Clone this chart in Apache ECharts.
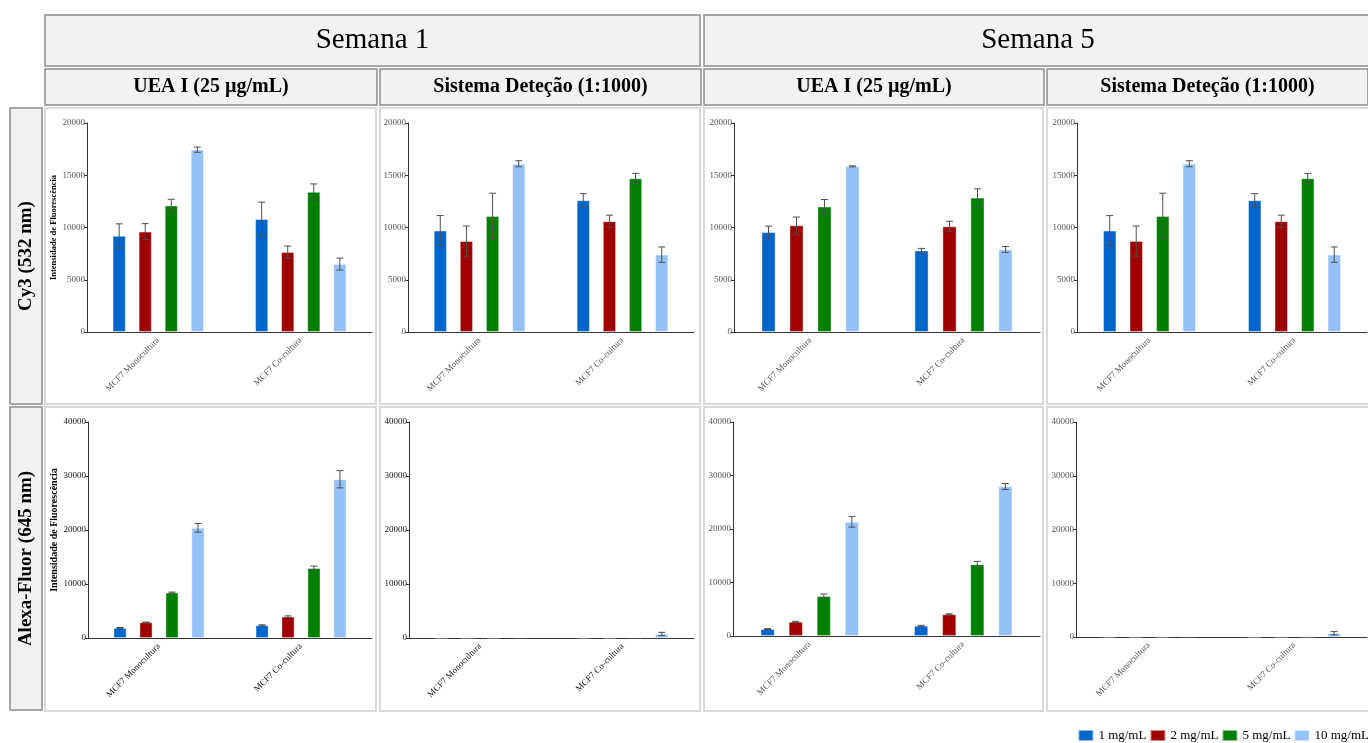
<!DOCTYPE html>
<html>
<head>
<meta charset="utf-8">
<title>Intensidade de Fluorescência</title>
<script src="https://cdn.jsdelivr.net/npm/echarts@6/dist/echarts.min.js"></script>
<style>
  html, body { margin: 0; padding: 0; background: #ffffff; }
  #chart { width: 1368px; height: 743px; }
</style>
</head>
<body>
<div id="chart"></div>
<script>
// ---- data -------------------------------------------------------------
const categories = ['MCF7 Monocultura', 'MCF7 Co-cultura'];
const concentrations = ['1 mg/mL', '2 mg/mL', '5 mg/mL', '10 mg/mL'];
const weeks = ['Semana 1', 'Semana 5'];
const probes = ['UEA I (25 µg/mL)', 'Sistema Deteção (1:1000)'];
const channels = ['Cy3 (532 nm)', 'Alexa-Fluor (645 nm)'];
const yTicksCy3 = [0, 5000, 10000, 15000, 20000];
const yTicksAlexa = [0, 10000, 20000, 30000, 40000];
const yAxisTitle = 'Intensidade de Fluorescência';

// mean values per concentration, [Monocultura, Co-cultura]
const s1UeaCy3      = [[9200, 10800], [9600, 7650], [12100, 13400], [17450, 6500]];
const s1UeaCy3Err   = [[1150, 1620], [770, 570], [600, 770], [250, 570]];
const s1SisCy3      = [[9700, 12600], [8700, 10600], [11100, 14700], [16100, 7400]];
const s1SisCy3Err   = [[1440, 640], [1440, 580], [2180, 480], [290, 740]];
const s5UeaCy3      = [[9550, 7800], [10200, 10100], [12000, 12850], [15850, 7900]];
const s5UeaCy3Err   = [[580, 200], [800, 500], [680, 850], [50, 280]];
const s5SisCy3      = [[9700, 12600], [8700, 10600], [11100, 14700], [16100, 7400]];
const s5SisCy3Err   = [[1440, 640], [1440, 580], [2180, 480], [290, 740]];

const s1UeaAlexa    = [[1850, 2350], [2900, 3950], [8400, 12950], [20400, 29400]];
const s1UeaAlexaErr = [[100, 100], [50, 150], [100, 350], [800, 1600]];
const s1SisAlexa    = [[20, 30], [20, 40], [40, 120], [120, 750]];
const s1SisAlexaErr = [[0, 0], [0, 0], [0, 0], [0, 300]];
const s5UeaAlexa    = [[1300, 1900], [2650, 4050], [7450, 13400], [21350, 27950]];
const s5UeaAlexaErr = [[80, 100], [100, 100], [400, 550], [1000, 550]];
const s5SisAlexa    = [[20, 20], [20, 30], [30, 60], [110, 700]];
const s5SisAlexaErr = [[0, 0], [0, 0], [0, 0], [0, 300]];

// ---- styling ----------------------------------------------------------
const barColors = ['#0066CC', '#A00000', '#008000', '#94C1F8'];
const serif = 'Liberation Serif, Times New Roman, serif';
const CAT_GAP = 0.36;           // barCategoryGap as a fraction

// panel layout: grid rectangles and column/row frame edges
const cols = [[45, 377], [380, 701], [704, 1044], [1047, 1372]];
const rowsY = [[108, 405], [407, 712]];

const panels = [
  { vals: s1UeaCy3,   errs: s1UeaCy3Err,   ticks: yTicksCy3,   grid: { left: 87,  top: 123, width: 285, height: 209 }, title: true,  dark: false, nameSize: 8.5 },
  { vals: s1SisCy3,   errs: s1SisCy3Err,   ticks: yTicksCy3,   grid: { left: 408, top: 123, width: 286, height: 209 }, title: false, dark: false },
  { vals: s5UeaCy3,   errs: s5UeaCy3Err,   ticks: yTicksCy3,   grid: { left: 734, top: 123, width: 306, height: 209 }, title: false, dark: false },
  { vals: s5SisCy3,   errs: s5SisCy3Err,   ticks: yTicksCy3,   grid: { left: 1077, top: 123, width: 290, height: 209 }, title: false, dark: false },
  { vals: s1UeaAlexa, errs: s1UeaAlexaErr, ticks: yTicksAlexa, grid: { left: 88,  top: 422, width: 284, height: 216 }, title: true,  dark: true, nameSize: 10 },
  { vals: s1SisAlexa, errs: s1SisAlexaErr, ticks: yTicksAlexa, grid: { left: 409, top: 422, width: 285, height: 216 }, title: false, dark: true },
  { vals: s5UeaAlexa, errs: s5UeaAlexaErr, ticks: yTicksAlexa, grid: { left: 733, top: 422, width: 307, height: 214 }, title: false, dark: false },
  { vals: s5SisAlexa, errs: s5SisAlexaErr, ticks: yTicksAlexa, grid: { left: 1076, top: 422, width: 291, height: 215 }, title: false, dark: false }
];

// ---- error bars -------------------------------------------------------
function renderErrorBar(params, api) {
  const cat = api.value(0);
  const si = api.value(1);
  const v = api.value(2);
  const e = api.value(3);
  if (!e) return null;
  const catW = api.size([1, 0])[0];
  const n = concentrations.length;
  const bw = catW * (1 - CAT_GAP) / (2 * n - 1);
  const off = (si - (n - 1) / 2) * 2 * bw;
  const hi = api.coord([cat, v + e]);
  const lo = api.coord([cat, Math.max(0, v - e)]);
  const x = hi[0] + off;
  const cap = 3.5;
  const st = { stroke: '#505050', lineWidth: 1 };
  return {
    type: 'group',
    children: [
      { type: 'line', shape: { x1: x, y1: hi[1], x2: x, y2: lo[1] }, style: st },
      { type: 'line', shape: { x1: x - cap, y1: hi[1], x2: x + cap, y2: hi[1] }, style: st },
      { type: 'line', shape: { x1: x - cap, y1: lo[1], x2: x + cap, y2: lo[1] }, style: st }
    ]
  };
}

// ---- build axes and series -------------------------------------------
const grids = [], xAxes = [], yAxes = [], series = [];
panels.forEach((p, i) => {
  const labelColor = p.dark ? '#111' : '#555';
  grids.push(Object.assign({ containLabel: false }, p.grid));
  xAxes.push({
    type: 'category',
    gridIndex: i,
    data: categories,
    axisLine: { lineStyle: { color: '#333', width: 1 } },
    axisTick: { alignWithLabel: true, length: 3, lineStyle: { color: '#333' } },
    axisLabel: { rotate: 45, fontFamily: serif, fontSize: 9, color: labelColor, margin: 7 }
  });
  const max = p.ticks[p.ticks.length - 1];
  yAxes.push({
    type: 'value',
    gridIndex: i,
    min: p.ticks[0],
    max: max,
    interval: p.ticks[1] - p.ticks[0],
    name: p.title ? yAxisTitle : '',
    nameLocation: 'middle',
    nameGap: 28,
    nameTextStyle: { fontFamily: serif, fontSize: p.nameSize || 9, fontWeight: 'bold', color: '#000' },
    splitLine: { show: false },
    axisLine: { show: true, lineStyle: { color: '#333', width: 1 } },
    axisTick: { show: true, length: 3, lineStyle: { color: '#333' } },
    axisLabel: { fontFamily: serif, fontSize: 9, color: labelColor, margin: 2, formatter: v => String(v) }
  });
  const errData = [];
  concentrations.forEach((name, si) => {
    series.push({
      type: 'bar',
      name: name,
      xAxisIndex: i,
      yAxisIndex: i,
      data: p.vals[si],
      barGap: '100%',
      barCategoryGap: (CAT_GAP * 100) + '%',
      itemStyle: { color: barColors[si], borderColor: 'rgba(255,255,255,0.55)', borderWidth: 0.8 },
      silent: true
    });
    p.vals[si].forEach((v, ci) => errData.push([ci, si, v, p.errs[si][ci]]));
  });
  series.push({
    type: 'custom',
    xAxisIndex: i,
    yAxisIndex: i,
    renderItem: renderErrorBar,
    encode: { x: 0, y: 2 },
    data: errData,
    z: 5,
    silent: true
  });
});

// ---- header boxes and panel frames -----------------------------------
const graphics = [];
function headerBox(x1, y1, x2, y2, text, font, rotate) {
  graphics.push({
    type: 'rect',
    shape: { x: x1, y: y1, width: x2 - x1, height: y2 - y1 },
    style: { fill: '#F2F2F2', stroke: '#8C8C8C', lineWidth: 1.5 },
    z: -1
  });
  graphics.push({
    type: 'text',
    x: (x1 + x2) / 2,
    y: (y1 + y2) / 2,
    rotation: rotate ? Math.PI / 2 : 0,
    style: { text: text, font: font, fill: '#000', align: 'center', verticalAlign: 'middle' },
    z: 0
  });
}
headerBox(45, 15, 700, 66, weeks[0], '29px ' + serif);
headerBox(704, 15, 1372, 66, weeks[1], '29px ' + serif);
[0, 1, 2, 3].forEach(c => {
  headerBox(cols[c][0], 69, cols[c][1] - (c === 3 ? 4 : 0), 105, probes[c % 2], 'bold 20px ' + serif);
});
headerBox(10, 108, 42, 404, channels[0], 'bold 19px ' + serif, true);
headerBox(10, 407, 42, 710, channels[1], 'bold 19px ' + serif, true);
rowsY.forEach(r => {
  cols.forEach(c => {
    graphics.push({
      type: 'rect',
      shape: { x: c[0], y: r[0], width: c[1] - c[0] - 1, height: r[1] - r[0] - 1 },
      style: { fill: null, stroke: '#D9D9D9', lineWidth: 2 },
      z: -2
    });
  });
});

const chart = echarts.init(document.getElementById('chart'), null, { renderer: 'canvas' });
chart.setOption({
  animation: false,
  backgroundColor: '#ffffff',
  grid: grids,
  xAxis: xAxes,
  yAxis: yAxes,
  series: series,
  graphic: graphics,
  legend: {
    data: concentrations,
    right: -6,
    bottom: -4,
    icon: 'rect',
    itemWidth: 15,
    itemHeight: 11,
    itemGap: 3,
    textStyle: { fontFamily: serif, fontSize: 13, color: '#000' }
  }
});
</script>
</body>
</html>
